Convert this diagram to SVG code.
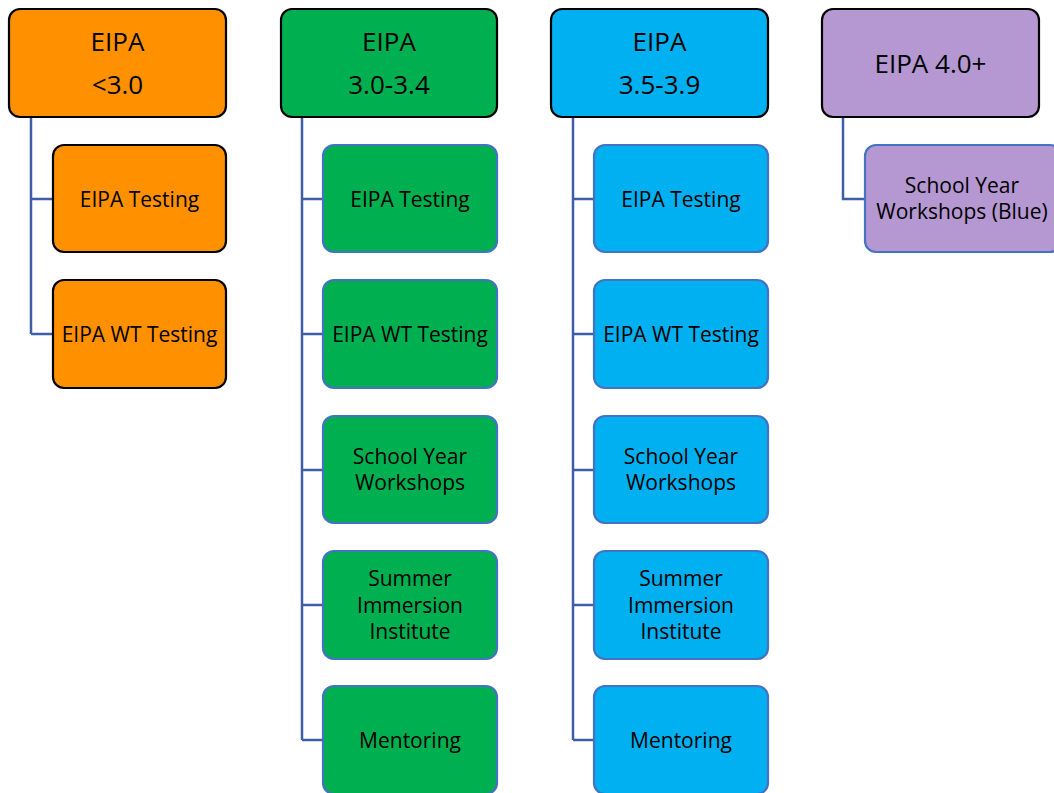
<svg xmlns="http://www.w3.org/2000/svg" width="1054" height="793" viewBox="0 0 1054 793">
  <style>
    .box { stroke-width: 2.2; }
    .head { stroke: #000000; }
    .item { stroke: #4472C4; }
    .item-dark { stroke: #000000; }
    .orange { fill: #FF9100; }
    .green { fill: #00B050; }
    .blue { fill: #00B0F0; }
    .purple { fill: #B597D1; }
    text { font-family: "Open Sans", "Liberation Sans", sans-serif; fill: #000000; text-anchor: middle; dominant-baseline: central; }
    .t-head { font-size: 26px; }
    .t-item { font-size: 21px; }
    .link { fill: none; stroke: #3E5FA8; stroke-width: 2.5; }
  </style>

  <!-- connectors -->
  <g id="connectors">
    <path class="link" d="M31 117 V334 M31 199 H53 M31 334 H53"/>
    <path class="link" d="M302 117 V740 M302 199 H323 M302 334 H323 M302 470 H323 M302 605 H323 M302 740 H323"/>
    <path class="link" d="M573 117 V740 M573 199 H594 M573 334 H594 M573 470 H594 M573 605 H594 M573 740 H594"/>
    <path class="link" d="M843 117 V199 H865"/>
  </g>

  <!-- column: EIPA <3.0 -->
  <g id="head-lt30">
    <rect class="box head orange" x="9" y="9" width="217" height="108" rx="11"/>
    <text class="t-head" x="117.5" y="41">EIPA</text>
    <text class="t-head" x="117.5" y="84">&lt;3.0</text>
  </g>
  <g id="lt30-testing">
    <rect class="box item-dark orange" x="53" y="145" width="173" height="107" rx="11"/>
    <text class="t-item" x="139.5" y="199">EIPA Testing</text>
  </g>
  <g id="lt30-wt">
    <rect class="box item-dark orange" x="53" y="280" width="173" height="108" rx="11"/>
    <text class="t-item" x="139.5" y="334">EIPA WT Testing</text>
  </g>

  <!-- column: EIPA 3.0-3.4 -->
  <g id="head-30">
    <rect class="box head green" x="281" y="9" width="216" height="108" rx="11"/>
    <text class="t-head" x="389" y="41">EIPA</text>
    <text class="t-head" x="389" y="84">3.0-3.4</text>
  </g>
  <g id="g30-testing">
    <rect class="box item green" x="323" y="145" width="174" height="107" rx="11"/>
    <text class="t-item" x="410" y="199">EIPA Testing</text>
  </g>
  <g id="g30-wt">
    <rect class="box item green" x="323" y="280" width="174" height="108" rx="11"/>
    <text class="t-item" x="410" y="334">EIPA WT Testing</text>
  </g>
  <g id="g30-workshops">
    <rect class="box item green" x="323" y="416" width="174" height="107" rx="11"/>
    <text class="t-item" x="410" y="456">School Year</text>
    <text class="t-item" x="410" y="482">Workshops</text>
  </g>
  <g id="g30-summer">
    <rect class="box item green" x="323" y="551" width="174" height="108" rx="11"/>
    <text class="t-item" x="410" y="578">Summer</text>
    <text class="t-item" x="410" y="605">Immersion</text>
    <text class="t-item" x="410" y="631">Institute</text>
  </g>
  <g id="g30-mentoring">
    <rect class="box item green" x="323" y="686" width="174" height="108" rx="11"/>
    <text class="t-item" x="410" y="740">Mentoring</text>
  </g>

  <!-- column: EIPA 3.5-3.9 -->
  <g id="head-35">
    <rect class="box head blue" x="551" y="9" width="217" height="108" rx="11"/>
    <text class="t-head" x="659.5" y="41">EIPA</text>
    <text class="t-head" x="659.5" y="84">3.5-3.9</text>
  </g>
  <g id="g35-testing">
    <rect class="box item blue" x="594" y="145" width="174" height="107" rx="11"/>
    <text class="t-item" x="681" y="199">EIPA Testing</text>
  </g>
  <g id="g35-wt">
    <rect class="box item blue" x="594" y="280" width="174" height="108" rx="11"/>
    <text class="t-item" x="681" y="334">EIPA WT Testing</text>
  </g>
  <g id="g35-workshops">
    <rect class="box item blue" x="594" y="416" width="174" height="107" rx="11"/>
    <text class="t-item" x="681" y="456">School Year</text>
    <text class="t-item" x="681" y="482">Workshops</text>
  </g>
  <g id="g35-summer">
    <rect class="box item blue" x="594" y="551" width="174" height="108" rx="11"/>
    <text class="t-item" x="681" y="578">Summer</text>
    <text class="t-item" x="681" y="605">Immersion</text>
    <text class="t-item" x="681" y="631">Institute</text>
  </g>
  <g id="g35-mentoring">
    <rect class="box item blue" x="594" y="686" width="174" height="108" rx="11"/>
    <text class="t-item" x="681" y="740">Mentoring</text>
  </g>

  <!-- column: EIPA 4.0+ -->
  <g id="head-40">
    <rect class="box head purple" x="822" y="9" width="217" height="108" rx="11"/>
    <text class="t-head" x="930.5" y="63">EIPA 4.0+</text>
  </g>
  <g id="g40-workshops">
    <rect class="box item purple" x="865" y="145" width="196" height="107" rx="11"/>
    <text class="t-item" x="962" y="185">School Year</text>
    <text class="t-item" x="962" y="211">Workshops (Blue)</text>
  </g>
</svg>
